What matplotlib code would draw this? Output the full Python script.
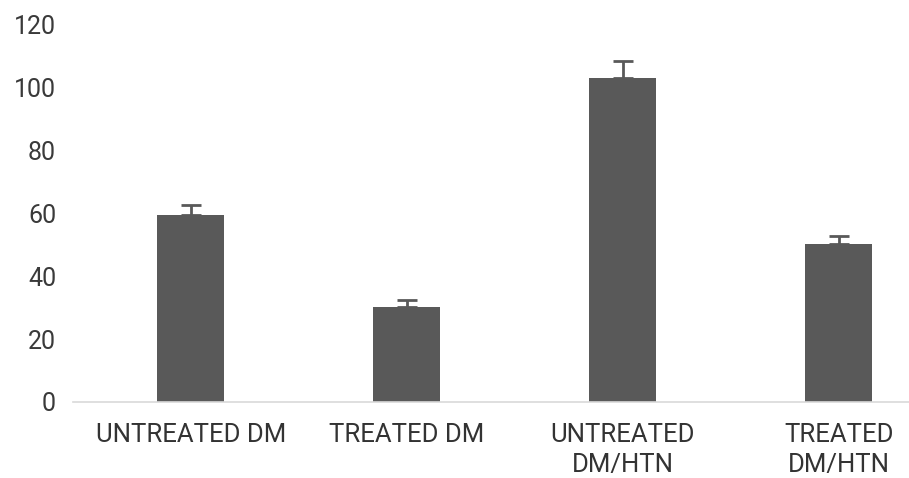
import numpy as np
import matplotlib.pyplot as plt

categories = ['UNTREATED DM', 'TREATED DM', 'UNTREATED\nDM/HTN', 'TREATED\nDM/HTN']
means = [59.5, 30.3, 103.2, 50.3]
errors = [3.2, 2.0, 5.4, 2.6]
yticks = [0, 20, 40, 60, 80, 100, 120]

plt.rcParams['font.family'] = ['Roboto', 'DejaVu Sans']

fig = plt.figure(figsize=(9.09, 4.78), dpi=100)
ax = fig.add_axes([0.080, 0.159, 0.920, 0.789])

x = np.arange(len(categories))
ax.bar(x, means, width=0.31, color='#595959', zorder=2)
ax.errorbar(x, means, yerr=[np.zeros(len(errors)), errors], fmt='none',
            ecolor='#595959', elinewidth=2, capsize=7, capthick=2, zorder=3)

ax.set_xlim(-0.546, 3.324)
ax.set_ylim(0, 120)
ax.set_yticks(yticks)
ax.set_xticks(x)
ax.set_xticklabels(categories, fontsize=18.5, color='#333333', linespacing=1.3)
ax.tick_params(axis='y', labelsize=18, labelcolor='#3a3a3a', length=0, pad=12)
ax.tick_params(axis='x', length=0, pad=15)

for s in ['top', 'right', 'left']:
    ax.spines[s].set_visible(False)
ax.spines['bottom'].set_color('#d9d9d9')
ax.spines['bottom'].set_linewidth(1.2)

fig.savefig('out.png', dpi=100)
